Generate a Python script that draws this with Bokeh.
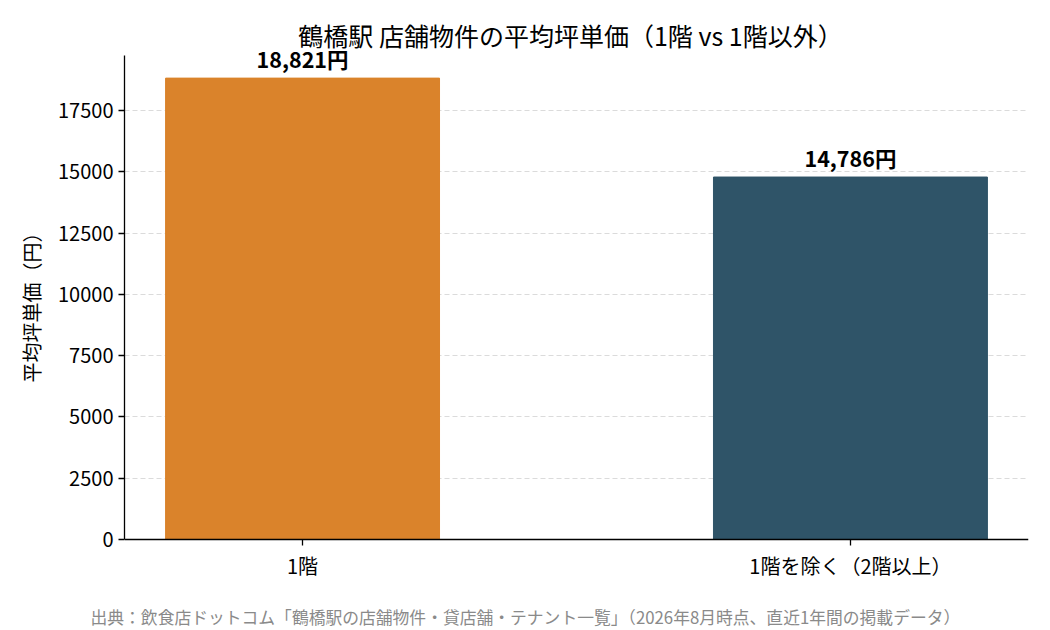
from bokeh.plotting import figure
from bokeh.models import Range1d, FixedTicker, Label, ColumnDataSource, LabelSet, Title
from bokeh.core.properties import value
from bokeh.embed import file_html
from bokeh.resources import INLINE

categories = ["1階", "1階を除く（2階以上）"]
avg_price = [18821, 14786]
bar_colors = ["#DA832B", "#2F5468"]
y_ticks = [0, 2500, 5000, 7500, 10000, 12500, 15000, 17500]
title_text = "鶴橋駅 店舗物件の平均坪単価（1階 vs 1階以外）"
source_note = "出典：飲食店ドットコム「鶴橋駅の店舗物件・貸店舗・テナント一覧」（2026年8月時点、直近1年間の掲載データ）"

FONT = "Noto Sans CJK JP"
W, H = 1042, 630
LEFT, RIGHT = 124, 14
BOTTOM = 26                      # space under the frame for the source note
FRAME_BOTTOM = H - BOTTOM
Y0_PX = 539                      # canvas row of y = 0
PX_PER_UNIT = (539 - 110) / 17500
y_top = max(avg_price) * 1.05    # top of the visible y axis
xs = list(range(len(categories)))
src = ColumnDataSource(dict(
    x=xs, y=avg_price, color=bar_colors,
    label=[f"{v:,}円" for v in avg_price],
))

p = figure(width=W, height=H, output_backend="svg", toolbar_location=None,
           x_range=Range1d(-0.325, 1.325),
           y_range=Range1d(-(FRAME_BOTTOM - Y0_PX) / PX_PER_UNIT, Y0_PX / PX_PER_UNIT),
           min_border_left=LEFT, min_border_right=RIGHT, min_border_top=0,
           min_border_bottom=BOTTOM)
p.outline_line_color = None
p.background_fill_color = "white"
p.border_fill_color = "white"
p.title.text = ""

p.vbar(x="x", top="y", width=0.5, color="color", source=src)
labels = LabelSet(x="x", y="y", text="label", source=src, text_align="center",
                  text_baseline="bottom", y_offset=4, text_font=value(FONT),
                  text_font_style="bold", text_font_size="21.5px", text_color="black")
p.add_layout(labels)

frame_w = W - LEFT - RIGHT
p.add_layout(Label(x=frame_w / 2 - 6, y=FRAME_BOTTOM - 34, x_units="screen", y_units="screen",
                   text=title_text, text_align="center", text_baseline="middle",
                   text_font=FONT, text_font_size="25px", text_color="black"))

foot = Title(text=source_note, align="left", offset=-34, vertical_align="top",
             text_font=FONT, text_font_size="16.8px", text_font_style="normal",
             text_color="#8a8a8a", standoff=0)
p.add_layout(foot, "below")

p.xaxis.fixed_location = 0
p.xaxis.ticker = FixedTicker(ticks=xs)
p.xaxis.major_label_overrides = {i: c for i, c in enumerate(categories)}
p.yaxis.ticker = FixedTicker(ticks=y_ticks)
p.yaxis.bounds = (0, y_top)
p.ygrid.ticker = p.yaxis.ticker
p.yaxis.axis_label = "平均坪単価（円）"
p.yaxis.axis_label_standoff = 9
for ax in (p.xaxis, p.yaxis):
    ax.major_label_text_font = FONT
    ax.major_label_text_font_size = "20px"
    ax.major_label_text_color = "black"
    ax.axis_line_color = "black"
    ax.axis_line_width = 1.3
    ax.major_tick_line_color = "black"
    ax.major_tick_line_width = 1.3
    ax.major_tick_out = 6
    ax.major_tick_in = 0
    ax.minor_tick_line_color = None
    ax.axis_label_text_font = FONT
    ax.axis_label_text_font_size = "20px"
    ax.axis_label_text_font_style = "normal"
    ax.axis_label_text_color = "black"

p.xgrid.grid_line_color = None
p.ygrid.grid_line_color = "#cccccc"
p.ygrid.grid_line_alpha = 0.7
p.ygrid.grid_line_dash = "5 3"

open("out.html", "w").write(file_html(p, INLINE))
